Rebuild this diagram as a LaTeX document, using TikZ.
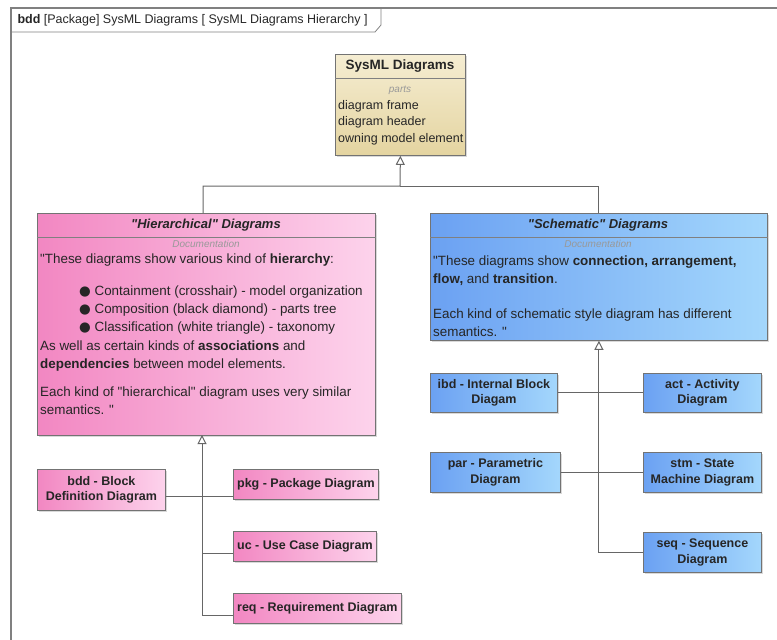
\documentclass[tikz,border=0pt]{standalone}
\usepackage{fontspec}
\setmainfont{Liberation Sans}
\newfontfamily\symfont{DejaVu Sans}
\usetikzlibrary{positioning,shadows,calc,arrows.meta}

\definecolor{pinkL}{HTML}{F287C2}
\definecolor{pinkR}{HTML}{FDD3EC}
\definecolor{blueL}{HTML}{6BA1F2}
\definecolor{blueR}{HTML}{A4D7FC}
\definecolor{sandT}{HTML}{F5EDD2}
\definecolor{sandB}{HTML}{E4D4A0}
\definecolor{inkgray}{HTML}{666666}

\newcommand\dq{\textquotedbl}

\tikzset{
	blk/.style={draw=black!55, line width=0.8pt, inner sep=0pt, anchor=north west,
		drop shadow={shadow xshift=2pt, shadow yshift=-2pt, opacity=0.3}},
	pinkblk/.style={blk, left color=pinkL, right color=pinkR},
	blueblk/.style={blk, left color=blueL, right color=blueR},
	sandblk/.style={blk, top color=sandT, bottom color=sandB},
	leaf/.style={font=\fontsize{12.5}{15.5}\selectfont\bfseries, align=center, text=black!85},
	title/.style={font=\fontsize{13}{15}\selectfont\bfseries\itshape, text=black!85},
	doc/.style={font=\fontsize{10}{11}\selectfont\itshape, text=black!40},
	body/.style={font=\fontsize{13.4}{18}\selectfont, align=left, anchor=north west, inner sep=0pt, text=black!85},
	divider/.style={draw=black!50, line width=0.6pt},
	link/.style={draw=inkgray, line width=1pt},
	gen/.style={link, -{Triangle[open, length=9pt, width=9pt]}},
	frameline/.style={draw=black!50, line width=1.4pt}
}

\begin{document}
\begin{tikzpicture}[x=1pt, y=-1pt]
	\useasboundingbox (0,0) rectangle (777,640);
	
	% diagram frame and header
	\draw[frameline] (11,640) -- (11,8) -- (777,8);
	\draw[draw=black!50, line width=0.8pt] (11,32) -- (375,32) -- (381,25) -- (381,8);
	\node[anchor=west, font=\fontsize{12.5}{14}\selectfont, text=black!85] (hdr) at (14,20)
		{\textbf{bdd} [Package] SysML Diagrams [ SysML Diagrams Hierarchy ]};
	
	% root block
	\node[sandblk, minimum width=130pt, minimum height=101pt] (sysml) at (335,54) {};
	\node[font=\fontsize{13.5}{15}\selectfont\bfseries, text=black!85] (sysmltitle) at (400,66) {SysML Diagrams};
	\draw[divider] ($(sysml.north west)+(0,24)$) -- ($(sysml.north east)+(0,24)$);
	\node[doc] (sysmlparts) at (400,90) {parts};
	\node[body, font=\fontsize{12.5}{16.5}\selectfont] (sysmllist) at (338,100)
		{diagram frame\\diagram header\\owning model element};
	
	% hierarchical block
	\node[pinkblk, minimum width=338pt, minimum height=222pt] (hier) at (37,213) {};
	\node[title] (hiertitle) at (206,225) {\dq Hierarchical\dq{} Diagrams};
	\draw[divider] ($(hier.north west)+(0,24)$) -- ($(hier.north east)+(0,24)$);
	\node[doc] (hierdoc) at (206,244) {Documentation};
	\node[body] (hiertext) at (40,254) {%
		\dq These diagrams show various kind of \textbf{hierarchy}:\\[14pt]
		\hspace*{39pt}{\symfont ●} Containment (crosshair) - model organization\\
		\hspace*{39pt}{\symfont ●} Composition (black diamond) - parts tree\\
		\hspace*{39pt}{\symfont ●} Classification (white triangle) - taxonomy\\[1pt]
		As well as certain kinds of \textbf{associations} and\\
		\textbf{dependencies} between model elements.\\[10pt]
		Each kind of \dq hierarchical\dq{} diagram uses very similar\\
		semantics. \dq};
	
	% schematic block
	\node[blueblk, minimum width=337pt, minimum height=127pt] (schem) at (430,213) {};
	\node[title] (schemtitle) at (598,225) {\dq Schematic\dq{} Diagrams};
	\draw[divider] ($(schem.north west)+(0,24)$) -- ($(schem.north east)+(0,24)$);
	\node[doc] (schemdoc) at (598,244) {Documentation};
	\node[body] (schemtext) at (433,256) {%
		\dq These diagrams show \textbf{connection, arrangement,}\\
		\textbf{flow,} and \textbf{transition}.\\[17pt]
		Each kind of schematic style diagram has different\\
		semantics. \dq};
	
	% hierarchical kinds
	\node[pinkblk, leaf, minimum width=128pt, minimum height=41pt] (bdd) at (37,469) {bdd - Block\\Definition Diagram};
	\node[pinkblk, leaf, minimum width=145pt, minimum height=30pt] (pkg) at (233,469) {pkg - Package Diagram};
	\node[pinkblk, leaf, minimum width=143pt, minimum height=30pt] (uc) at (233,531) {uc - Use Case Diagram};
	\node[pinkblk, leaf, minimum width=168pt, minimum height=30pt] (req) at (233,593) {req - Requirement Diagram};
	
	% schematic kinds
	\node[blueblk, leaf, minimum width=127pt, minimum height=39pt] (ibd) at (430,373) {ibd - Internal Block\\Diagam};
	\node[blueblk, leaf, minimum width=118pt, minimum height=39pt] (act) at (643,373) {act - Activity\\Diagram};
	\node[blueblk, leaf, minimum width=130pt, minimum height=40pt] (par) at (430,452) {par - Parametric\\Diagram};
	\node[blueblk, leaf, minimum width=118pt, minimum height=40pt] (stm) at (643,452) {stm - State\\Machine Diagram};
	\node[blueblk, leaf, minimum width=118pt, minimum height=40pt] (seq) at (643,532) {seq - Sequence\\Diagram};
	
	% generalization tree to the root
	\coordinate (top) at (400,186);
	\draw[gen] (hier.north -| 203,0) |- (top) -- (sysml.south);
	\draw[link] (schem.north) |- (top);
	
	% hierarchical tree
	\coordinate (hjoin) at (202,435);
	\coordinate (pkgin) at ($(pkg.south west)+(0,-3)$);
	\coordinate (ucin) at ($(uc.south west)+(0,-8)$);
	\coordinate (reqin) at ($(req.south west)+(0,-8)$);
	\draw[gen] (reqin) -| (hjoin);
	\draw[link] (ucin) -- (ucin -| hjoin);
	\draw[link] (bdd.east |- pkgin) -- (pkgin);
	
	% schematic tree
	\draw[gen] (seq.west) -| (schem.south);
	\draw[link] (ibd.east) -- (act.west);
	\draw[link] (par.east |- stm.west) -- (stm.west);
	
\end{tikzpicture}
\end{document}
